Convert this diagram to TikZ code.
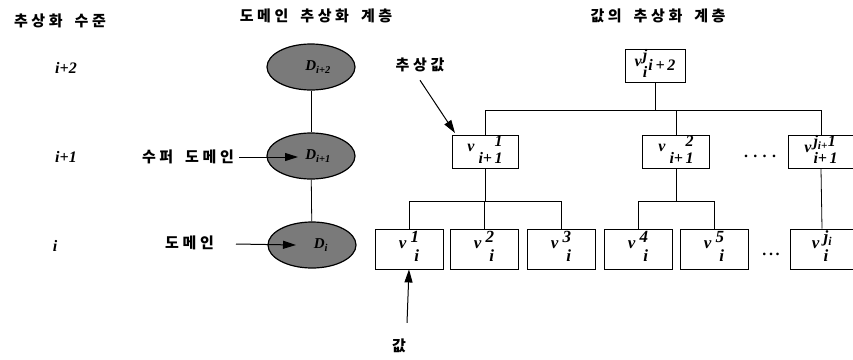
\documentclass[tikz,border=0pt]{standalone}
\usepackage{fontspec}
\setmainfont{Liberation Serif}
\newfontfamily\kr{Noto Sans CJK KR}[LetterSpace=24]
\usetikzlibrary{shapes.geometric,arrows.meta}
% value label: v followed by a stacked upper and lower index
\newcommand\vlab[3]{\raisebox{5pt}{\textit{v}}\hspace{4pt}%
  \begin{tabular}[c]{@{}r@{}}\textit{#1}\\[#3]\textit{#2}\end{tabular}}
\newcommand\wsp{\hspace{12pt}}
\begin{document}
\begin{tikzpicture}[x=1pt,y=-1pt,
  hdr/.style={font=\kr\bfseries\fontsize{15}{15}\selectfont, inner sep=0},
  lvl/.style={font=\bfseries\itshape\fontsize{16}{16}\selectfont, inner sep=0},
  dom/.style={ellipse, draw=black, line width=1.2pt, fill=black!52,
    minimum width=88pt, minimum height=46pt, inner sep=0,
    font=\bfseries\itshape\fontsize{15}{15}\selectfont},
  val/.style={draw=black, line width=0.9pt, fill=white, inner sep=0,
    font=\bfseries\fontsize{16}{16}\selectfont},
  lowval/.style={val, minimum width=68pt, minimum height=40pt,
    font=\bfseries\fontsize{17}{17}\selectfont},
  link/.style={line width=0.8pt},
  pointer/.style={line width=1pt, -{Triangle[length=13pt,width=8pt]}}
]
\useasboundingbox (0,0) rectangle (853,359);

% column headings
\node[hdr] (h1) at (60,21) {추상화\wsp 수준};
\node[hdr] (h2) at (316,16) {도메인\wsp 추상화\wsp 계층};
\node[hdr] (h3) at (658,16) {값의\wsp 추상화\wsp 계층};

% abstraction levels
\node[lvl] (l2) at (66,68) {i+2};
\node[lvl] (l1) at (66,157) {i+1};
\node[lvl] (l0) at (55,246) {i};

% domain hierarchy
\node[dom] (d2) at (311,67) {\hspace*{14pt}D\textsubscript{i+2}};
\node[dom] (d1) at (311,156) {\hspace*{14pt}D\textsubscript{i+1}};
\node[dom] (d0) at (312,245) {\hspace*{18pt}D\textsubscript{i}};
\draw[link] (d2) -- (d1);
\draw[link] (d1) -- (d0);

\node[hdr, anchor=east] (sup) at (234,157) {수퍼\wsp 도메인};
\node[hdr, anchor=east] (dom) at (214,243) {도메인};
\coordinate (supt) at (298,157);
\coordinate (domt) at (296,245);
\draw[pointer] (sup.east) ++(5,0) coordinate (sups) -- (supt);
\draw[pointer] (dom.east) ++(22,1) coordinate (doms) -- (domt);

% value hierarchy: top level
\node[val, minimum width=60pt, minimum height=33pt] (t) at (655,66)
  {\raisebox{4pt}{\textit{v}}\hspace{1pt}%
   \begin{tabular}[c]{@{}c@{}}\textit{j}\\[1pt]\textit{i}\end{tabular}%
   \hspace{1pt}\textit{i\,+\,2}};

% level i+1
\node[val, minimum width=66pt, minimum height=30pt] (a1) at (485,152)
  {\vlab{1}{i+\,1}{1.5pt}};
\node[val, minimum width=67pt, minimum height=30pt] (a2) at (676,152)
  {\vlab{2}{i+\,1}{1.5pt}};
\node[val, minimum width=66pt, minimum height=30pt] (a3) at (821,152)
  {\raisebox{4pt}{\textit{v}}\hspace{2pt}%
   \begin{tabular}[c]{@{}l@{}}\textit{j\textsubscript{i+}1}\\[1.5pt]\textit{i+\,1}\end{tabular}};
\node[font=\bfseries\fontsize{16}{16}\selectfont] (dd1) at (760,156) {.\,\,.\,\,.\,\,.};

% level i
\node[lowval] (b1) at (409,249) {\vlab{1}{i}{2pt}};
\node[lowval] (b2) at (484,249) {\vlab{2}{i}{2pt}};
\node[lowval] (b3) at (561,249) {\vlab{3}{i}{2pt}};
\node[lowval] (b4) at (638,249) {\vlab{4}{i}{2pt}};
\node[lowval] (b5) at (714,249) {\vlab{5}{i}{2pt}};
\node[lowval, minimum width=64pt] (b6) at (822,249)
  {\raisebox{5pt}{\textit{v}}\hspace{4pt}%
   \begin{tabular}[c]{@{}l@{}}\textit{j\textsubscript{i}}\\[2pt]\textit{i}\end{tabular}};
\node[font=\bfseries\fontsize{16}{16}\selectfont] (dd0) at (771,254) {.\,.\,.};

% tree connectors
\coordinate (bus) at (0,110);
\draw[link] (t.south) -- (t.south |- bus);
\draw[link] (a1.north) -- (a1.north |- bus) -- (a3.north |- bus) -- (a3.north);
\draw[link] (a2.north) -- (a2.north |- bus);

\coordinate (sub) at (0,201);
\draw[link] (a1.south) -- (a1.south |- sub);
\draw[link] (b1.north) -- (b1.north |- sub) -- (b3.north |- sub) -- (b3.north);
\draw[link] (b2.north) -- (b2.north |- sub);
\draw[link] (a2.south) -- (a2.south |- sub);
\draw[link] (b4.north) -- (b4.north |- sub) -- (b5.north |- sub) -- (b5.north);
\draw[link] (a3.south) -- (b6.north);

% pointers to an abstract value and a value
\node[hdr] (absv) at (420,65) {추상값};
\coordinate (abst) at (455,133);
\draw[pointer] (absv.south) ++(0,8) coordinate (abss) -- (abst);

\node[hdr] (valv) at (399,346) {값};
\draw[pointer] (valv.north) ++(8,-16) coordinate (vals) -- (b1.south);
\end{tikzpicture}
\end{document}
